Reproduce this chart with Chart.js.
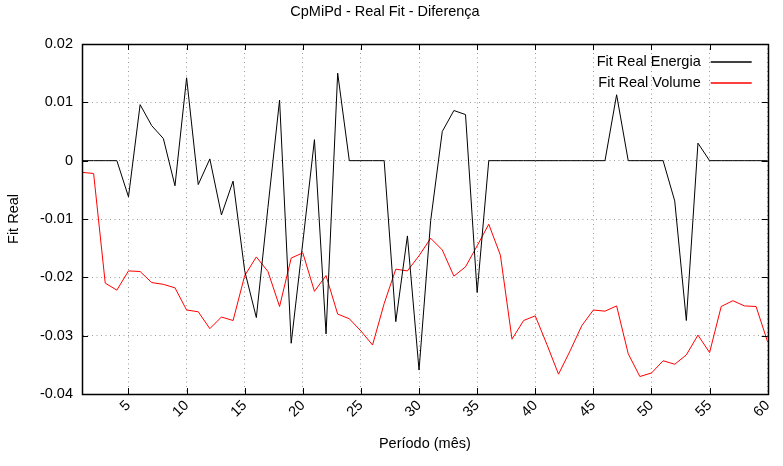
<!DOCTYPE html>
<html>
<head>
<meta charset="utf-8">
<script src="https://cdn.jsdelivr.net/npm/chart.js@4/dist/chart.umd.min.js"></script>
<style>
  html, body { margin: 0; padding: 0; background: #fff; }
  #wrap { width: 783px; height: 466px; }
</style>
</head>
<body>
<div id="wrap"><canvas id="c" width="783" height="466"></canvas></div>
<script>
// ---- data ----
const periods = [1,2,3,4,5,6,7,8,9,10,11,12,13,14,15,16,17,18,19,20,21,22,23,24,25,26,27,28,29,30,
                 31,32,33,34,35,36,37,38,39,40,41,42,43,44,45,46,47,48,49,50,51,52,53,54,55,56,57,58,59,60];
const fitRealEnergia = [0,0,0,0,-0.0062,0.0096,0.006,0.0038,-0.0043,0.0142,
                        -0.0041,0.0003,-0.0093,-0.0035,-0.0189,-0.0269,-0.008,0.0104,-0.0313,-0.014,
                        0.0036,-0.0297,0.015,0,0,0,0,-0.0276,-0.0129,-0.0359,
                        -0.0103,0.005,0.0086,0.0079,-0.0226,0,0,0,0,0,
                        0,0,0,0,0,0,0.0113,0,0,0,
                        0,-0.0069,-0.0274,0.003,0,0,0,0,0,0];
const fitRealVolume = [-0.002,-0.0022,-0.021,-0.0222,-0.0189,-0.019,-0.0209,-0.0212,-0.0218,-0.0256,
                       -0.0259,-0.0288,-0.0268,-0.0274,-0.0197,-0.0165,-0.019,-0.025,-0.0167,-0.0158,
                       -0.0224,-0.0197,-0.0263,-0.0271,-0.0292,-0.0316,-0.0245,-0.0186,-0.0189,-0.0163,
                       -0.0133,-0.0153,-0.0198,-0.0182,-0.0146,-0.0109,-0.0162,-0.0306,-0.0274,-0.0266,
                       -0.0315,-0.0366,-0.0326,-0.0283,-0.0256,-0.0258,-0.0249,-0.0331,-0.037,-0.0364,
                       -0.0343,-0.0349,-0.0333,-0.0299,-0.0329,-0.025,-0.024,-0.0249,-0.025,-0.0311];
const xTickValues = [5,10,15,20,25,30,35,40,45,50,55,60];
const yTickValues = [-0.04,-0.03,-0.02,-0.01,0,0.01,0.02];
const yTickLabels = ['-0.04','-0.03','-0.02','-0.01','0','0.01','0.02'];
const seriesNames = ['Fit Real Energia','Fit Real Volume'];
const seriesColors = ['#000000','#ff0000'];

// ---- styles ----
const FONT = 'Liberation Sans, Arial, Helvetica, sans-serif';
const FS = 14.5;
const tickFont = { family: FONT, size: FS };

const toPoints = (ys) => periods.map((p, i) => ({ x: p, y: ys[i] }));

const framePlugin = {
  id: 'frame',
  afterDraw(chart) {
    const ctx = chart.ctx;
    const a = chart.chartArea;
    const xs = chart.scales.x, ys = chart.scales.y;
    ctx.save();
    ctx.setLineDash([]);
    ctx.strokeStyle = '#000';
    ctx.lineWidth = 1;
    const TL = 6;
    ctx.beginPath();
    xs.ticks.forEach(t => {
      const px = Math.round(xs.getPixelForValue(t.value)) + 0.5;
      ctx.moveTo(px, a.bottom); ctx.lineTo(px, a.bottom - TL);
      ctx.moveTo(px, a.top); ctx.lineTo(px, a.top + TL);
    });
    ys.ticks.forEach(t => {
      const py = Math.round(ys.getPixelForValue(t.value)) + 0.5;
      ctx.moveTo(a.left, py); ctx.lineTo(a.left + TL, py);
      ctx.moveTo(a.right, py); ctx.lineTo(a.right - TL, py);
    });
    ctx.stroke();
    ctx.lineWidth = 1.5;
    ctx.strokeRect(Math.round(a.left) + 0.5, Math.round(a.top) + 0.5,
                   Math.round(a.right - a.left), Math.round(a.bottom - a.top));
    // legend (top-right, inside plot)
    ctx.font = FS + 'px ' + FONT;
    ctx.textAlign = 'right';
    ctx.textBaseline = 'middle';
    chart.data.datasets.forEach((ds, i) => {
      const y = a.top + 18 + i * 21;
      ctx.fillStyle = '#000';
      ctx.fillText(ds.label, a.right - 67, y);
      ctx.strokeStyle = seriesColors[i];
      ctx.lineWidth = 1.5;
      ctx.beginPath();
      ctx.moveTo(a.right - 57, Math.round(y));
      ctx.lineTo(a.right - 16, Math.round(y));
      ctx.stroke();
    });
    ctx.restore();
  }
};

new Chart(document.getElementById('c'), {
  type: 'line',
  data: {
    datasets: [
      { label: seriesNames[0], data: toPoints(fitRealEnergia), borderColor: seriesColors[0],
        borderWidth: 1, pointRadius: 0, tension: 0, fill: false },
      { label: seriesNames[1], data: toPoints(fitRealVolume), borderColor: seriesColors[1],
        borderWidth: 1, pointRadius: 0, tension: 0, fill: false }
    ]
  },
  options: {
    responsive: false,
    animation: false,
    devicePixelRatio: 1,
    layout: { padding: { left: 0, right: 13, top: 0, bottom: 0 } },
    plugins: {
      legend: { display: false },
      tooltip: { enabled: false },
      title: {
        display: true,
        text: 'CpMiPd - Real Fit - Diferença',
        color: '#000',
        font: { family: FONT, size: FS, weight: 'normal' },
        padding: { top: 3, bottom: 23.6 }
      }
    },
    scales: {
      x: {
        type: 'linear',
        min: 1, max: 60,
        afterBuildTicks(s) { s.ticks = xTickValues.map(v => ({ value: v })); },
        afterFit(s) { s.height = 72; },
        ticks: { font: tickFont, color: '#000', minRotation: 45, maxRotation: 45,
                 autoSkip: false, padding: 3 },
        grid: { color: '#9a9a9a', lineWidth: 1, drawTicks: false },
        border: { display: true, color: '#000', width: 1, dash: [1, 3.5] },
        title: { display: true, text: 'Período (mês)', color: '#000',
                 font: { family: FONT, size: FS }, padding: { top: 0, bottom: 13.5 } }
      },
      y: {
        min: -0.04, max: 0.02,
        afterBuildTicks(s) { s.ticks = yTickValues.map(v => ({ value: v })); },
        afterFit(s) { s.width = 82; },
        ticks: { font: tickFont, color: '#000', padding: 9,
                 callback: (v, i) => yTickLabels[i] },
        grid: { color: '#9a9a9a', lineWidth: 1, drawTicks: false },
        border: { display: true, color: '#000', width: 1, dash: [1, 3.5] },
        title: { display: true, text: 'Fit Real', color: '#000',
                 font: { family: FONT, size: FS }, padding: { top: 5.5, bottom: 0 } }
      }
    }
  },
  plugins: [framePlugin]
});
</script>
</body>
</html>
